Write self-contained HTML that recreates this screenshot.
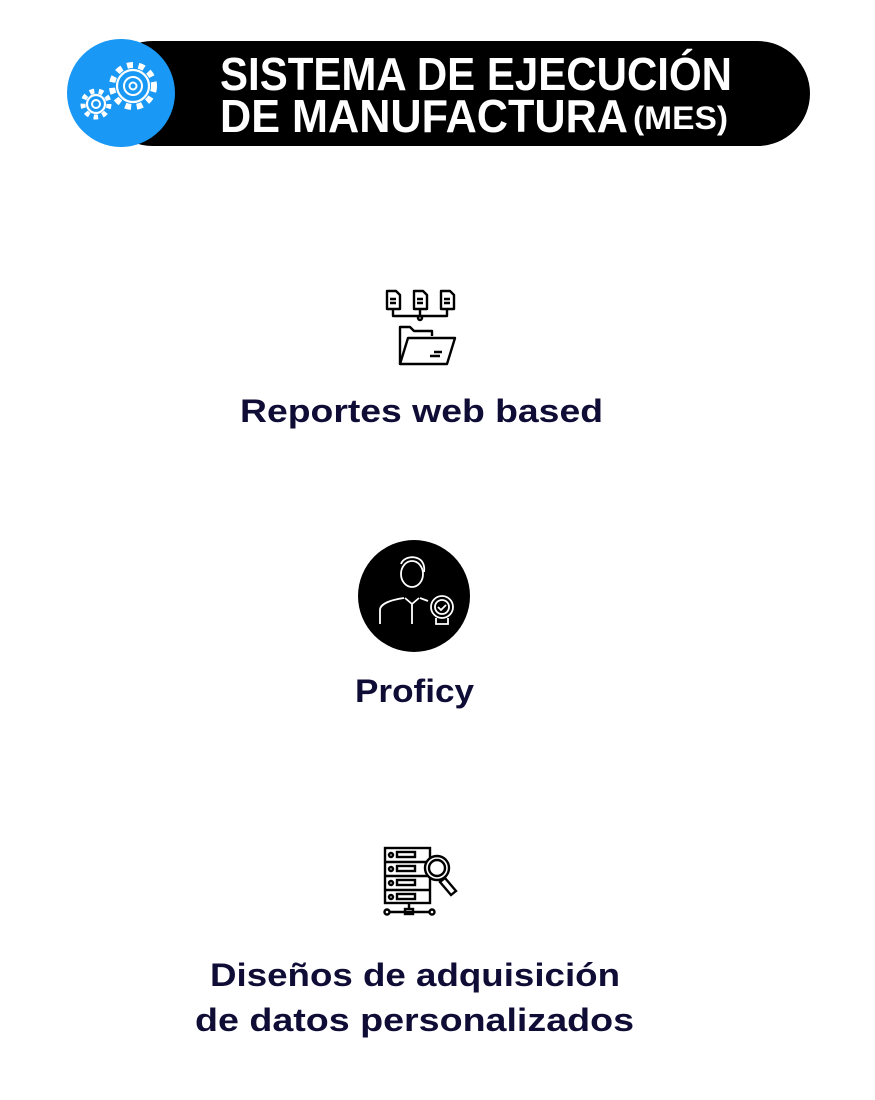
<!DOCTYPE html>
<html><head><meta charset="utf-8"><style>
html,body{margin:0;padding:0;background:#fff;}
svg{display:block}
</style></head><body>
<svg width="875" height="1100" viewBox="0 0 875 1100" xmlns="http://www.w3.org/2000/svg">
<rect x="100" y="41" width="710" height="105" rx="52.5" fill="#000"/>
<circle cx="121" cy="93" r="54" fill="#1a98f5"/>
<g fill="none" stroke="#fff">
<circle cx="133" cy="86" r="21" stroke-width="6" stroke-dasharray="6 5.6"/>
<circle cx="133" cy="86" r="16" stroke-width="2.2" fill="#1a98f5"/>
<circle cx="133" cy="86" r="9" stroke-width="2"/>
<circle cx="133" cy="86" r="3.5" stroke-width="2"/>
<circle cx="96" cy="104" r="13" stroke-width="5" stroke-dasharray="4.5 4.6"/>
<circle cx="96" cy="104" r="9" stroke-width="2.2" fill="#1a98f5"/>
<circle cx="96" cy="104" r="4" stroke-width="2"/>
</g>
<g font-family="Liberation Sans, sans-serif" font-weight="bold" fill="#fff">
<text x="220" y="90" font-size="46" textLength="512" lengthAdjust="spacingAndGlyphs">SISTEMA DE EJECUCIÓN</text>
<text x="220" y="132" font-size="46" textLength="408" lengthAdjust="spacingAndGlyphs">DE MANUFACTURA</text>
<text x="633" y="129" font-size="32" textLength="95" lengthAdjust="spacingAndGlyphs">(MES)</text>
</g>
<!-- folder icon -->
<g fill="none" stroke="#000" stroke-width="2.4" stroke-linejoin="round">
<path d="M387 291h9l4 4v14h-13z"/><path d="M390 299h6M390 303h6"/>
<path d="M414 291h9l4 4v14h-13z"/><path d="M417 299h6M417 303h6"/>
<path d="M441 291h9l4 4v14h-13z"/><path d="M444 299h6M444 303h6"/>
<path d="M393 309v7h54v-7M420 309v12"/>
<circle cx="420" cy="318" r="2" fill="#fff"/>
<path d="M400 364v-37h10l4 4h18v5"/>
<path d="M400 364l8-26h47l-8 26z"/>
<path d="M430 356h10M434 352h8"/>
</g>
<circle cx="414" cy="596" r="56" fill="#000"/>
<g fill="none" stroke="#fff" stroke-width="1.8">
<path d="M401 564c2-6 10-8 16-6 6 2 8 8 7 14"/>
<ellipse cx="412" cy="574" rx="11" ry="13"/>
<path d="M380 624v-14c0-6 10-10 24-12M420 598l8 3M405 598l7 6 7-6M412 604v20"/>
<circle cx="442" cy="607" r="11"/><circle cx="442" cy="607" r="7"/>
<path d="M438 607l3 3 5-5M436 618v6h12v-6"/>
</g>
<!-- server icon -->
<g fill="none" stroke="#000" stroke-width="2.4">
<rect x="385" y="848" width="45" height="55"/>
<path d="M385 862h45M385 876h45M385 890h45"/>
<circle cx="391" cy="855" r="2"/><circle cx="391" cy="869" r="2"/><circle cx="391" cy="883" r="2"/><circle cx="391" cy="897" r="2"/>
<rect x="397" y="852" width="18" height="5"/><rect x="397" y="866" width="18" height="5"/><rect x="397" y="880" width="18" height="5"/><rect x="397" y="894" width="18" height="5"/>
<circle cx="437" cy="868" r="12" fill="#fff"/><circle cx="437" cy="868" r="8"/>
<path d="M445 878l11 13-5 4-11-13z" fill="#fff"/>
<path d="M409 903v7M389 912h40"/>
<circle cx="387" cy="912" r="2.5"/><circle cx="432" cy="912" r="2.5"/><rect x="405" y="909" width="8" height="5"/>
</g>
<g font-family="Liberation Sans, sans-serif" font-weight="bold" fill="#0f0d35" font-size="32">
<text x="240" y="422" textLength="363" lengthAdjust="spacingAndGlyphs">Reportes web based</text>
<text x="355" y="702" textLength="119" lengthAdjust="spacingAndGlyphs">Proficy</text>
<text x="210" y="986" textLength="410" lengthAdjust="spacingAndGlyphs">Diseños de adquisición</text>
<text x="195" y="1031" textLength="439" lengthAdjust="spacingAndGlyphs">de datos personalizados</text>
</g>
</svg>
</body></html>
